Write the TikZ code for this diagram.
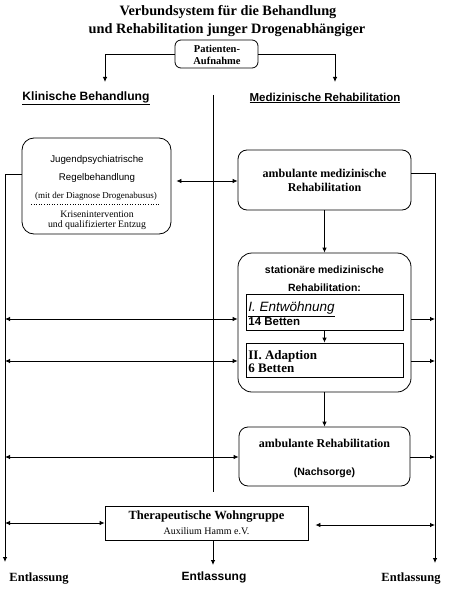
\documentclass[tikz,border=0pt]{standalone}
\usepackage{fontspec}
\setmainfont{Liberation Serif}
\setsansfont{Liberation Sans}
\usetikzlibrary{arrows.meta}
\begin{document}
\begin{tikzpicture}[x=1pt,y=-1pt, line width=0.8pt,
  >={Latex[length=5pt,width=4.5pt]},
  rbox/.style={draw, rounded corners=9pt, inner sep=0pt, minimum width=#1},
  sbox/.style={draw, inner sep=0pt},
  txt/.style={inner sep=0pt, align=center},
  serb/.style={txt, font=\fontsize{12.5}{14}\selectfont\bfseries},
  sanb/.style={txt, font=\fontsize{11.5}{13}\sffamily\bfseries},
]
\useasboundingbox (0,0) rectangle (448,591);
% title
\node[txt, font=\fontsize{14.3}{18}\selectfont\bfseries] (t1) at (228,12) {Verbundsystem für die Behandlung};
\node[txt, font=\fontsize{14.3}{18}\selectfont\bfseries] (t2) at (227,30) {und Rehabilitation junger Drogenabhängiger};
% Patienten box
\node[rbox=83pt, minimum height=28pt, rounded corners=6pt] (pa) at (216.5,54) {};
\node[txt, font=\fontsize{10.5}{12}\selectfont\bfseries] (pat) at (217,55) {Patienten-\\Aufnahme};
% headings
\node[sanb, font=\fontsize{12.1}{13}\sffamily\bfseries] (kb) at (86,98) {\underline{Klinische Behandlung}};
\node[sanb] (mr) at (325,98) {\underline{Medizinische Rehabilitation}};
\coordinate (kbt) at (105,82);
\coordinate (mrt) at (335,82);
\draw[->] (pa.west) -| (kbt);
\draw[->] (pa.east) -| (mrt);
% center line
\coordinate (c1) at (213,95);
\coordinate (c2) at (213,492);
\draw (c1) -- (c2);
% left box
\node[rbox=149pt, minimum height=96pt, rounded corners=12pt] (lb) at (96.5,186) {};
\node[txt, font=\fontsize{9.7}{10}\sffamily] (lb1) at (97,160) {Jugendpsychiatrische};
\node[txt, font=\fontsize{9.7}{10}\sffamily] (lb2) at (97,178) {Regelbehandlung};
\node[txt, font=\fontsize{9}{9}\selectfont] (lb3) at (96,196) {(mit der Diagnose Drogenabusus)};
\draw[dotted, line width=0.6pt] (31,204) -- (160,204);
\node[txt, font=\fontsize{9.8}{9.8}\selectfont] (lb4) at (97,220.5) {Krisenintervention\\und qualifizierter Entzug};
% right top box
\node[rbox=173pt, minimum height=60pt, rounded corners=9pt] (am) at (324.5,180) {};
\node[serb, font=\fontsize{12}{14}\selectfont\bfseries] (amt) at (324.5,180) {ambulante medizinische\\Rehabilitation};
% stationary box
\node[rbox=173pt, minimum height=139pt, rounded corners=14pt] (st) at (324.5,322.5) {};
\node[sanb, font=\fontsize{10.5}{18}\sffamily\bfseries] (stt) at (324.5,279) {stationäre medizinische\\Rehabilitation:};
\node[sbox, minimum width=157pt, minimum height=36pt] (b1) at (324.5,312) {};
\node[txt, anchor=west, align=left, font=\fontsize{13.5}{13.5}\sffamily] (b1t) at (248,313.5) {\textit{\underline{I. Entwöhnung}}\\{\fontsize{11.5}{13}\selectfont\bfseries 14 Betten}};
\node[sbox, minimum width=157pt, minimum height=34pt] (b2) at (324.5,360) {};
\node[txt, anchor=west, align=left, font=\fontsize{13}{13.5}\selectfont\bfseries] (b2t) at (248,361.5) {II. Adaption\\6 Betten};
% ambulante Reha
\node[rbox=171pt, minimum height=59pt, rounded corners=9pt] (ar) at (324.5,456.5) {};
\node[serb, font=\fontsize{12}{14}\selectfont\bfseries] (ar1) at (324.5,443) {ambulante Rehabilitation};
\node[sanb, font=\fontsize{10.5}{12}\sffamily\bfseries] (ar2) at (324.5,473) {(Nachsorge)};
% Wohngruppe
\node[sbox, minimum width=203pt, minimum height=34pt] (wg) at (206.5,523) {};
\node[txt, font=\fontsize{12.5}{13}\selectfont\bfseries] (wg1) at (206.5,517) {Therapeutische Wohngruppe};
\node[txt, font=\fontsize{10}{10}\selectfont] (wg2) at (206.5,531) {Auxilium Hamm e.V.};
% Entlassung
\node[serb] (e1) at (39,579) {Entlassung};
\node[sanb, font=\fontsize{12}{13}\sffamily\bfseries] (e2) at (214,577) {Entlassung};
\node[serb] (e3) at (411,579) {Entlassung};
% side lines
\coordinate (L0) at (5,174);
\coordinate (Le) at (5,562);
\coordinate (R0) at (435,173);
\coordinate (Re) at (435,563);
\draw[->] (lb.west |- L0) -- (L0) -- (Le);
\draw[->] (am.east |- R0) -- (R0) -- (Re);
% connections
\draw[<->] ([xshift=5pt]lb.east |- 0,181) -- (am.west |- 0,181);
\draw[->] (am.south) -- (st.north);
\draw[->] (b1.south) -- (b2.north);
\draw[->] (st.south) -- (ar.north);
\coordinate (wge) at (213,565);
\draw[->] (wge |- wg.south) -- (wge);
\coordinate (y1) at (0,319);
\coordinate (y2) at (0,361);
\coordinate (y3) at (0,457);
\coordinate (y4) at (0,523);
\coordinate (y5) at (0,525);
\draw[<->] (Le |- y1) -- (st.west |- y1);
\draw[<->] (Le |- y2) -- (st.west |- y2);
\draw[->] (st.east |- y1) -- (Re |- y1);
\draw[->] (st.east |- y2) -- (Re |- y2);
\draw[<->] (Le |- y3) -- (ar.west |- y3);
\draw[->] (ar.east |- y3) -- (Re |- y3);
\draw[<->] (Le |- y4) -- (wg.west |- y4);
\draw[<->] ([xshift=7pt]wg.east |- y5) -- (Re |- y5);
\end{tikzpicture}
\end{document}
